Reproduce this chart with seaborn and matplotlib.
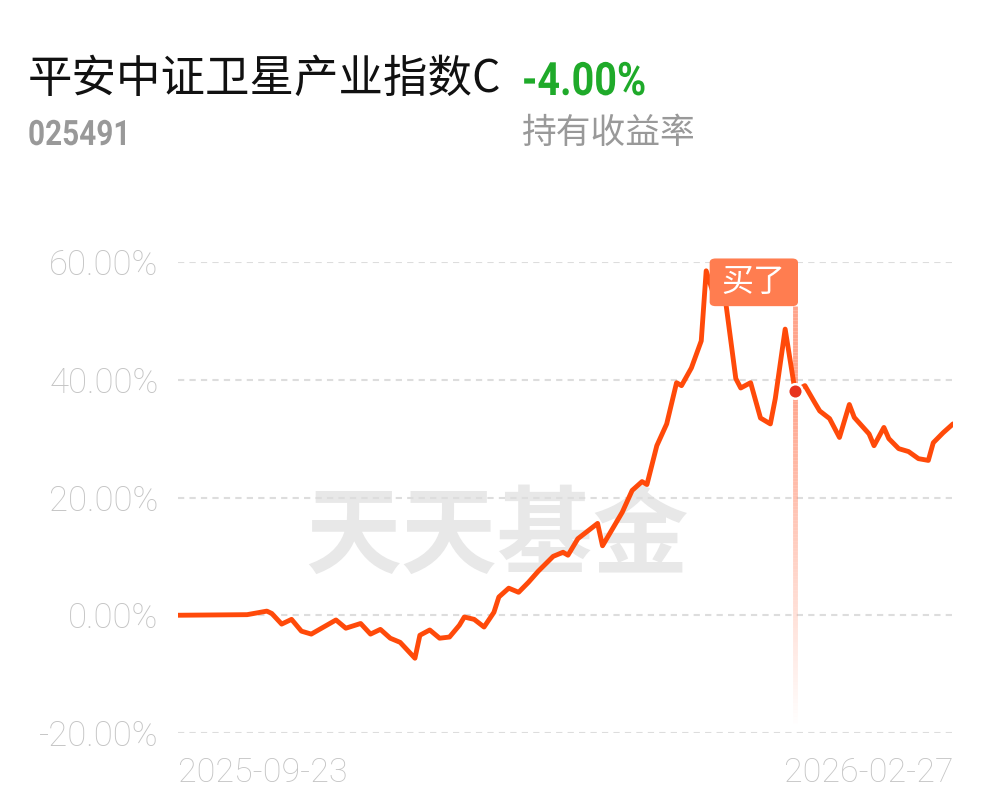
import pandas as pd
import numpy as np
import matplotlib
matplotlib.use("Agg")
import matplotlib.pyplot as plt
import seaborn as sns
from matplotlib.collections import LineCollection
from matplotlib.patches import FancyBboxPatch, PathPatch
from matplotlib.textpath import TextPath
from matplotlib.font_manager import FontProperties
from matplotlib.transforms import Affine2D, IdentityTransform
import matplotlib.dates as mdates

# fund info
fund_name = "平安中证卫星产业指数C"
fund_code = "025491"
holding_return = "-4.00%"
return_label = "持有收益率"
buy_label = "买了"

# cumulative return (%)
dates = [
    "2025-09-23", "2025-10-07", "2025-10-11", "2025-10-12", "2025-10-14", "2025-10-16",
    "2025-10-18", "2025-10-20", "2025-10-25", "2025-10-27", "2025-10-30", "2025-11-01",
    "2025-11-03", "2025-11-05", "2025-11-07", "2025-11-10", "2025-11-11", "2025-11-13",
    "2025-11-15", "2025-11-17", "2025-11-19", "2025-11-20", "2025-11-22", "2025-11-24",
    "2025-11-26", "2025-11-27", "2025-11-29", "2025-12-01", "2025-12-03", "2025-12-05",
    "2025-12-08", "2025-12-10", "2025-12-11", "2025-12-13", "2025-12-17", "2025-12-18",
    "2025-12-22", "2025-12-24", "2025-12-26", "2025-12-27", "2025-12-29", "2025-12-31",
    "2026-01-02", "2026-01-03", "2026-01-05", "2026-01-07", "2026-01-08", "2026-01-10",
    "2026-01-12", "2026-01-14", "2026-01-15", "2026-01-17", "2026-01-19", "2026-01-21",
    "2026-01-22", "2026-01-24", "2026-01-26", "2026-01-28", "2026-01-30", "2026-01-31",
    "2026-02-02", "2026-02-04", "2026-02-06", "2026-02-07", "2026-02-10", "2026-02-11",
    "2026-02-13", "2026-02-14", "2026-02-16", "2026-02-18", "2026-02-20", "2026-02-22",
    "2026-02-23", "2026-02-25", "2026-02-27",
]
returns = [
    0.0, 0.1, 0.7, 0.3, -1.5, -0.7,
    -2.7, -3.2, -0.8, -2.2, -1.4, -3.2,
    -2.4, -3.9, -4.6, -7.3, -3.4, -2.5,
    -3.9, -3.7, -1.7, -0.3, -0.7, -2.0,
    0.5, 3.1, 4.6, 3.9, 5.6, 7.5,
    10.0, 10.7, 10.2, 13.0, 15.6, 11.8,
    17.5, 21.2, 22.7, 22.2, 28.8, 32.5,
    39.5, 39.0, 42.0, 46.6, 58.5, 53.1,
    52.9, 40.2, 38.6, 39.5, 33.5, 32.5,
    36.8, 48.6, 38.1, 39.0, 36.1, 34.7,
    33.4, 30.2, 35.8, 33.6, 30.8, 28.8,
    31.9, 30.0, 28.3, 27.8, 26.6, 26.3,
    29.3, 31.0, 32.5,
]
buy_date = "2026-01-26"
y_ticks = [-20, 0, 20, 40, 60]
x_tick_labels = ["2025-09-23", "2026-02-27"]

df = pd.DataFrame({"date": pd.to_datetime(dates), "ret": returns})

sns.set_theme(style="white")
plt.rcParams['font.family'] = ['Roboto', 'Noto Sans CJK SC', 'DejaVu Sans']

W, H = 997, 802
fig = plt.figure(figsize=(W / 100, H / 100), dpi=100)
ax = fig.add_axes([178 / W, 1 - 733 / H, 775 / W, 471 / H])

line_color = "#FF4A0A"
label_grey = "#C4C4C4"

# watermark
ax.text(0.412, 0.415, "天天基金", transform=ax.transAxes, ha="center", va="center",
        fontsize=69, fontweight="bold", color="#E8E8E8", family=["Noto Sans CJK SC"], zorder=0)

sns.lineplot(data=df, x="date", y="ret", ax=ax, color=line_color, linewidth=3.5,
             zorder=4, solid_joinstyle="round", solid_capstyle="round")

ax.set_ylim(-20, 60)
start, end = df["date"].iloc[0], df["date"].iloc[-1]
ax.set_xlim(start, end)

ax.set_yticks(y_ticks)
ax.set_yticklabels([f"{v:.2f}%" for v in y_ticks])
ax.yaxis.grid(True, color="#DDDDDD", linestyle=(0, (3, 2.5)), linewidth=1.5)
ax.xaxis.grid(False)
ax.set_axisbelow(True)
ax.tick_params(axis="y", length=0, pad=14, labelsize=25, labelcolor=label_grey)

ax.set_xticks(pd.to_datetime(x_tick_labels))
ax.set_xticklabels(x_tick_labels)
ax.tick_params(axis="x", length=0, pad=17, labelsize=24.5, labelcolor=label_grey)
xl = ax.get_xticklabels()
xl[0].set_ha("left")
xl[1].set_ha("right")
for lab in ax.get_yticklabels() + xl:
    lab.set_fontweight("light")

ax.set_xlabel("")
ax.set_ylabel("")
for s in ax.spines.values():
    s.set_visible(False)

# buy marker
bd = pd.to_datetime(buy_date)
bv = df.loc[df["date"] == bd, "ret"].iloc[0]
bx = mdates.date2num(bd)
box_bottom, box_top = 52.5, 60.6

# fading vertical line
ys = np.linspace(box_bottom, -18.3, 120)
segs = [[(bx, ys[i]), (bx, ys[i + 1])] for i in range(len(ys) - 1)]
alphas = np.clip((ys[:-1] + 18.3) / (bv + 18.3), 0, 1) * 0.65
alphas = np.where(ys[:-1] > bv, 0.65, alphas)
cols = [(1.0, 0.45, 0.3, a) for a in alphas]
ax.add_collection(LineCollection(segs, colors=cols, linewidths=3.5, zorder=3))

ax.scatter([bd], [bv], s=110, color="#E8321E", edgecolor="white", linewidth=1.8, zorder=6)

# label box
box = FancyBboxPatch((bx - 17.3, box_bottom), 17.9, box_top - box_bottom,
                     boxstyle="round,pad=0,rounding_size=1.2", mutation_aspect=0.6,
                     facecolor="#FF7D50", edgecolor="none", zorder=5, clip_on=False)
ax.add_patch(box)
ax.text(bx - 8.4, (box_bottom + box_top) / 2, buy_label, ha="center", va="center",
        fontsize=23, color="white", family=["Noto Sans CJK SC"], zorder=6)


def condensed(text, x_px, base_px, size_px, squeeze, color):
    # bold narrow digits: Roboto Bold squeezed horizontally
    fp = FontProperties(family="Roboto", weight="bold")
    tp = TextPath((0, 0), text, size=size_px, prop=fp)
    tr = Affine2D().scale(squeeze, 1).translate(x_px, H - base_px) + IdentityTransform()
    fig.add_artist(PathPatch(tp, transform=tr, facecolor=color, edgecolor="none", lw=0))


# header texts
fig.text(28 / W, 1 - 79 / H, fund_name, ha="left", va="center", fontsize=32,
         color="#111111", family=["Noto Sans CJK SC"])
condensed(holding_return, 522, 95, 46, 0.86, "#1FAA2A")
condensed(fund_code, 28, 145, 35, 0.85, "#999999")
fig.text(522 / W, 1 - 133 / H, return_label, ha="left", va="center", fontsize=25,
         color="#999999", family=["Noto Sans CJK SC"])

fig.savefig("out.png", dpi=100, facecolor="white")
